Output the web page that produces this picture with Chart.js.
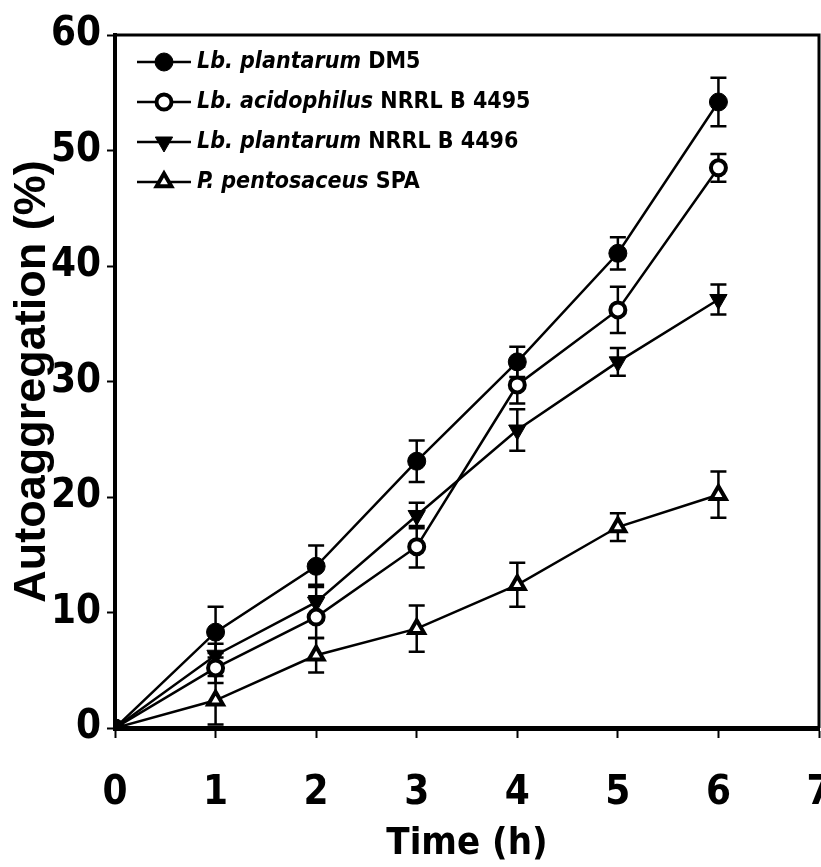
<!DOCTYPE html>
<html>
<head>
<meta charset="utf-8">
<script src="https://cdn.jsdelivr.net/npm/chart.js@4.4.1/dist/chart.umd.min.js"></script>
<style>
  body { margin: 0; background: #fff; }
  canvas { display: block; }
</style>
</head>
<body>
<canvas id="c" width="821" height="867"></canvas>
<script>
// time points (h)
var times = [0, 1, 2, 3, 4, 5, 6];

// legend text: italic species + plain strain
var speciesNames = ["Lb. plantarum", "Lb. acidophilus", "Lb. plantarum", "P. pentosaceus"];
var strainNames = ["DM5", "NRRL B 4495", "NRRL B 4496", "SPA"];

// autoaggregation (%)
var dm5 = [0, 8.3, 14.0, 23.1, 31.7, 41.1, 54.2];
var acidophilus = [0, 5.2, 9.6, 15.7, 29.7, 36.2, 48.5];
var plantarum4496 = [0, 6.3, 10.9, 18.4, 25.8, 31.7, 37.1];
var pentosaceus = [0, 2.4, 6.3, 8.6, 12.4, 17.4, 20.2];

// error bar half heights
var dm5Err = [0, 2.2, 1.8, 1.8, 1.3, 1.4, 2.1];
var acidophilusErr = [0, 1.3, 1.8, 1.8, 1.6, 2.0, 1.2];
var plantarum4496Err = [0, 1.0, 1.5, 1.1, 1.8, 1.2, 1.3];
var pentosaceusErr = [0, 2.1, 1.5, 2.0, 1.9, 1.2, 2.0];

var xTicks = [0, 1, 2, 3, 4, 5, 6, 7];
var yTicks = [0, 10, 20, 30, 40, 50, 60];

var narrow = "'Liberation Sans Narrow', 'Arial Narrow', 'DejaVu Sans Condensed', sans-serif";

function toPoints(ys) {
    return times.map(function (t, i) { return {x: t, y: ys[i]}; });
}

var markers = [
    {pointStyle: "circle", backgroundColor: "#000", borderColor: "#000", borderWidth: 1, radius: 9, rotation: 0},
    {pointStyle: "circle", backgroundColor: "#fff", borderColor: "#000", borderWidth: 4, radius: 7.5, rotation: 0},
    {pointStyle: "triangle", backgroundColor: "#000", borderColor: "#000", borderWidth: 1, radius: 10, rotation: 180},
    {pointStyle: "triangle", backgroundColor: "#fff", borderColor: "#000", borderWidth: 4, radius: 8.5, rotation: 0}
];
var seriesValues = [dm5, acidophilus, plantarum4496, pentosaceus];
var seriesErrors = [dm5Err, acidophilusErr, plantarum4496Err, pentosaceusErr];

var datasets = seriesValues.map(function (vals, i) {
    var m = markers[i];
    return {
        label: speciesNames[i] + " " + strainNames[i],
        data: toPoints(vals),
        errors: seriesErrors[i],
        borderColor: "#000",
        borderWidth: 2.5,
        pointStyle: m.pointStyle,
        pointRadius: m.radius,
        pointRotation: m.rotation,
        pointBackgroundColor: m.backgroundColor,
        pointBorderColor: m.borderColor,
        pointBorderWidth: m.borderWidth,
        tension: 0,
        fill: false
    };
});

// error bars drawn under the markers
var errorBars = {
    id: "errorBars",
    beforeDatasetsDraw: function (chart) {
        var ctx = chart.ctx;
        var xs = chart.scales.x, ys = chart.scales.y;
        ctx.save();
        ctx.strokeStyle = "#000";
        ctx.lineWidth = 2.5;
        chart.data.datasets.forEach(function (ds) {
            ds.data.forEach(function (p, i) {
                var e = ds.errors[i];
                if (!e) return;
                var x = xs.getPixelForValue(p.x);
                var top = ys.getPixelForValue(p.y + e);
                var bot = ys.getPixelForValue(p.y - e);
                ctx.beginPath();
                ctx.moveTo(x, top); ctx.lineTo(x, bot);
                ctx.moveTo(x - 8, top); ctx.lineTo(x + 8, top);
                ctx.moveTo(x - 8, bot); ctx.lineTo(x + 8, bot);
                ctx.stroke();
            });
        });
        ctx.restore();
    }
};

// top and right frame lines
var frame = {
    id: "frame",
    afterDraw: function (chart) {
        var a = chart.chartArea, ctx = chart.ctx;
        ctx.save();
        ctx.strokeStyle = "#000";
        ctx.lineWidth = 3;
        ctx.beginPath();
        ctx.moveTo(a.left, a.top); ctx.lineTo(a.right, a.top); ctx.lineTo(a.right, a.bottom);
        ctx.stroke();
        ctx.restore();
    }
};

// legend with italic species names
var legendBox = {
    id: "legendBox",
    afterDraw: function (chart) {
        var ctx = chart.ctx;
        var x0 = 137, x1 = 191, tx = 197, y = 62, dy = 40;
        ctx.save();
        chart.data.datasets.forEach(function (ds, i) {
            var yy = y + i * dy;
            ctx.strokeStyle = "#000";
            ctx.lineWidth = 2.5;
            ctx.beginPath(); ctx.moveTo(x0, yy); ctx.lineTo(x1, yy); ctx.stroke();
            var m = markers[i];
            ctx.fillStyle = m.backgroundColor;
            ctx.strokeStyle = m.borderColor;
            ctx.lineWidth = m.borderWidth;
            Chart.helpers.drawPoint(ctx, {pointStyle: m.pointStyle, radius: m.radius, rotation: m.rotation, borderWidth: m.borderWidth}, (x0 + x1) / 2, yy);
            ctx.fillStyle = "#000";
            ctx.textBaseline = "middle";
            ctx.textAlign = "left";
            ctx.font = "italic bold 23px " + narrow;
            ctx.fillText(speciesNames[i], tx, yy);
            var w = ctx.measureText(speciesNames[i] + " ").width;
            ctx.font = "bold 23px " + narrow;
            ctx.fillText(strainNames[i], tx + w, yy);
        });
        ctx.restore();
    }
};

new Chart(document.getElementById("c"), {
    type: "line",
    data: {datasets: datasets},
    plugins: [errorBars, frame, legendBox],
    options: {
        responsive: false,
        animation: false,
        layout: {autoPadding: false, padding: {top: 35, right: 2, left: 0, bottom: 0}},
        plugins: {legend: {display: false}, tooltip: {enabled: false}},
        scales: {
            x: {
                type: "linear",
                min: 0, max: 7,
                afterBuildTicks: function (s) { s.ticks = xTicks.map(function (v) { return {value: v}; }); },
                afterFit: function (s) { s.height = 139; s.paddingLeft = 0; s.paddingRight = 0; },
                grid: {drawOnChartArea: false, drawTicks: true, tickLength: 10, tickWidth: 2, tickColor: "#000"},
                border: {display: true, color: "#000", width: 5},
                ticks: {color: "#000", padding: 32, font: {family: narrow, size: 40, weight: "bold"}},
                title: {display: true, text: "Time (h)", color: "#000", padding: {top: 0, bottom: 0}, font: {family: narrow, size: 38, weight: "bold"}}
            },
            y: {
                min: 0, max: 60,
                afterBuildTicks: function (s) { s.ticks = yTicks.map(function (v) { return {value: v}; }); },
                afterFit: function (s) { s.width = 115; },
                grid: {drawOnChartArea: false, drawTicks: true, tickLength: 8, tickWidth: 2, tickColor: "#000"},
                border: {display: true, color: "#000", width: 4},
                ticks: {color: "#000", padding: 6, font: {family: narrow, size: 40, weight: "bold"}},
                title: {display: true, text: "Autoaggregation (%)", color: "#000", padding: {top: 6, bottom: 0}, font: {family: "'Liberation Sans', Arial, sans-serif", size: 45, weight: "bold"}}
            }
        }
    }
});
</script>
</body>
</html>
